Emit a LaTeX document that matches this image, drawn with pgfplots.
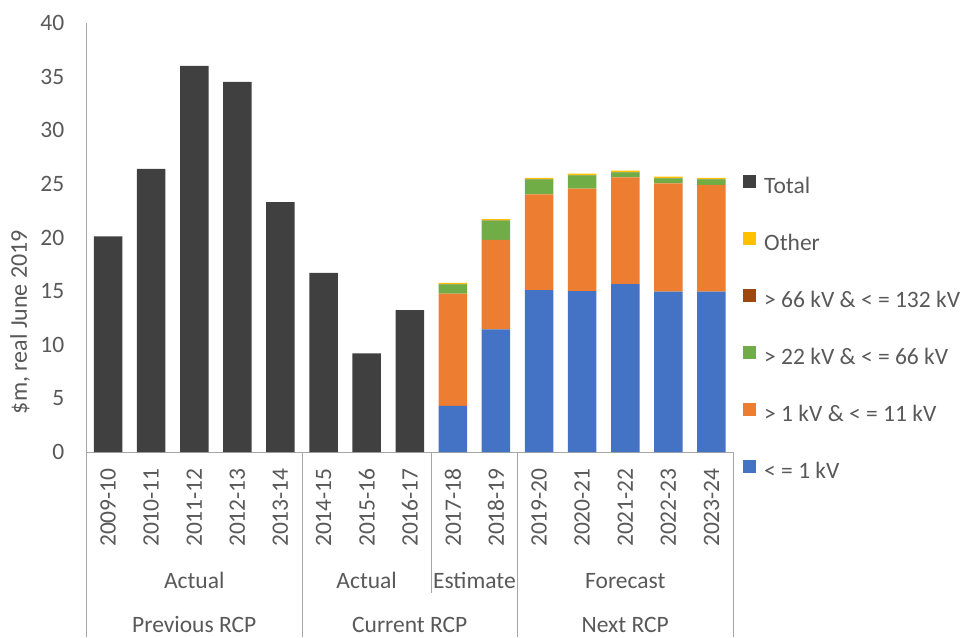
\documentclass[border=0pt]{standalone}
\usepackage{fontspec}
\setmainfont{Carlito}
\usepackage{pgfplots}
\usepackage{pgfplotstable}
\pgfplotsset{compat=1.18}

\definecolor{txt}{HTML}{595959}
\definecolor{axln}{HTML}{A6A6A6}
\definecolor{cTotal}{HTML}{404040}
\definecolor{cLow}{HTML}{4472C4}
\definecolor{cMid}{HTML}{ED7D31}
\definecolor{cSub}{HTML}{70AD47}
\definecolor{cHigh}{HTML}{9E480E}
\definecolor{cOther}{HTML}{FFC000}

% Capex by voltage level, $m real June 2019
\pgfplotstableread{
x  total low   mid   sub  high other
0  20.1  0     0     0    0    0
1  26.4  0     0     0    0    0
2  36.0  0     0     0    0    0
3  34.5  0     0     0    0    0
4  23.3  0     0     0    0    0
5  16.7  0     0     0    0    0
6  9.2   0     0     0    0    0
7  13.24 0     0     0    0    0
8  0     4.29  10.47 0.88 0.02 0.10
9  0     11.44 8.33  1.80 0.02 0.12
10 0     15.10 8.93  1.39 0.02 0.12
11 0     15.01 9.54  1.25 0.02 0.13
12 0     15.66 9.95  0.47 0.02 0.13
13 0     14.95 10.10 0.47 0.02 0.13
14 0     14.95 9.95  0.52 0.02 0.13
}\capex

\begin{document}
\begin{tikzpicture}[font=\fontsize{23.5}{28}\selectfont]
\path[use as bounding box] (0,0) rectangle (965pt,637pt);
\begin{axis}[
  at={(86.5pt,185pt)}, anchor=south west,
  scale only axis, width=646.5pt, height=429pt,
  ybar stacked, bar width=28.5pt,
  xmin=-0.5, xmax=14.5, ymin=0, ymax=40,
  axis x line=bottom, axis y line=left,
  axis line style={axln, line width=1pt, -},
  ytick={0,5,...,40},
  xtick={0,...,14},
  xticklabels={2009-10,2010-11,2011-12,2012-13,2013-14,2014-15,2015-16,2016-17,2017-18,2018-19,2019-20,2020-21,2021-22,2022-23,2023-24},
  major tick length=0pt,
  tick label style={text=txt, /pgf/number format/assume math mode=true},
  xticklabel style={rotate=90, anchor=east, inner sep=0pt},
  xticklabel shift=16pt,
  yticklabel style={anchor=east, inner sep=0pt},
  yticklabel shift=22pt,
  clip=false,
  reverse legend,
  legend cell align=left,
  legend image code/.code={\fill[#1] (0pt,0pt) rectangle (13pt,13pt);},
  legend style={at={(1.0155,0.647)}, anchor=north west, draw=none, fill=none,
    inner sep=0pt, row sep=33pt, column sep=8pt, text=txt,
    font=\fontsize{23.5}{28}\selectfont,
    nodes={inner sep=0pt, text height=17pt, text depth=5pt}},
]
\addplot[fill=cLow, draw=none] table[x=x, y=low] {\capex};
\addlegendentry{< = 1 kV}
\addplot[fill=cMid, draw=none] table[x=x, y=mid] {\capex};
\addlegendentry{> 1 kV \& < = 11 kV}
\addplot[fill=cSub, draw=none] table[x=x, y=sub] {\capex};
\addlegendentry{> 22 kV \& < = 66 kV}
\addplot[fill=cHigh, draw=none] table[x=x, y=high] {\capex};
\addlegendentry{> 66 kV \& < = 132 kV}
\addplot[fill=cOther, draw=none] table[x=x, y=other] {\capex};
\addlegendentry{Other}
\addplot[fill=cTotal, draw=none] table[x=x, y=total] {\capex};
\addlegendentry{Total}

% group separators of the category axis
\draw[axln, line width=1pt] (axis cs:-0.5,0) -- ++(0pt,-185pt);
\draw[axln, line width=1pt] (axis cs:4.5,0) -- ++(0pt,-185pt);
\draw[axln, line width=1pt] (axis cs:7.5,0) -- ++(0pt,-141pt);
\draw[axln, line width=1pt] (axis cs:9.5,0) -- ++(0pt,-185pt);
\draw[axln, line width=1pt] (axis cs:14.5,0) -- ++(0pt,-185pt);

% group labels
\node[anchor=base, text=txt] at ([yshift=-136pt]axis cs:2,0) {Actual};
\node[anchor=base, text=txt] at ([yshift=-136pt]axis cs:6,0) {Actual};
\node[anchor=base, text=txt] at ([yshift=-136pt]axis cs:8.5,0) {Estimate};
\node[anchor=base, text=txt] at ([yshift=-136pt]axis cs:12,0) {Forecast};
\node[anchor=base, text=txt, inner sep=1pt] at ([yshift=-180pt]axis cs:2,0) {Previous RCP};
\node[anchor=base, text=txt, inner sep=1pt] at ([yshift=-180pt]axis cs:7,0) {Current RCP};
\node[anchor=base, text=txt, inner sep=1pt] at ([yshift=-180pt]axis cs:12,0) {Next RCP};
\end{axis}
\node[rotate=90, text=txt, font=\fontsize{24}{28}\selectfont] at (20pt,315pt) {\$m, real June 2019};
\end{tikzpicture}
\end{document}
